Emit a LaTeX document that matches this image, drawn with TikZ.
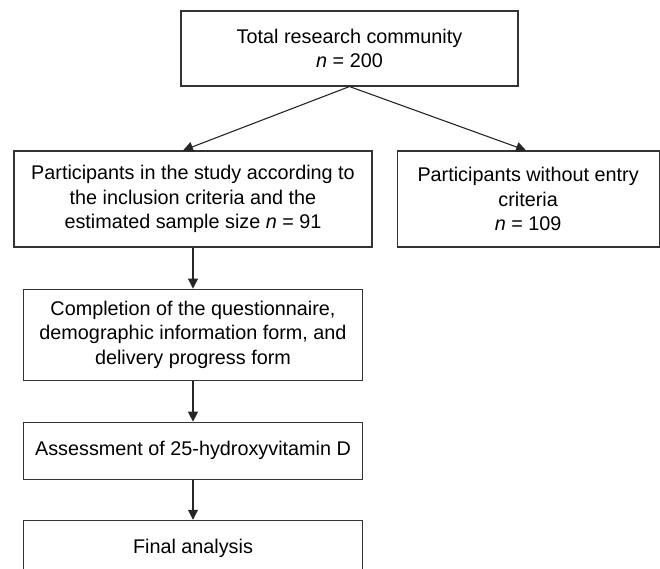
\documentclass[tikz,border=0pt]{standalone}
\usepackage{fontspec}
\setmainfont{Liberation Sans}
\usetikzlibrary{positioning,arrows.meta}

\begin{document}
\begin{tikzpicture}[
x=1pt, y=-1pt,
node distance=41pt and 24pt,
box/.style={rectangle, draw=black!80, line width=1.1pt, align=center, inner sep=0pt, font=\fontsize{19.8}{24.5}\selectfont},
arrow/.style={-{Triangle[length=10pt, width=10pt]}, line width=1.1pt, draw=black!85}
]
\useasboundingbox (0,0) rectangle (660,568);

\node[box, minimum width=337pt, minimum height=75pt] (total) at (349.5,48.5) {Total research community\\ \textit{n} = 200};
\node[box, minimum width=358pt, minimum height=96pt] (included) at (193,199) {Participants in the study according to\\ the inclusion criteria and the\\ estimated sample size \textit{n} = 91};
\node[box, minimum width=262pt, minimum height=96pt, right=of included] (excluded) {Participants without entry\\ criteria\\ \textit{n} = 109};

\node[box, minimum width=339pt, minimum height=91pt, below=of included] (questionnaire) {Completion of the questionnaire,\\ demographic information form, and\\ delivery progress form};
\node[box, minimum width=339pt, minimum height=57pt, below=of questionnaire] (vitamin) {Assessment of 25-hydroxyvitamin D};
\node[box, minimum width=339pt, minimum height=57pt, below=40pt of vitamin] (analysis) {Final analysis};

\draw[arrow] (total.south) -- ([xshift=-10pt]included.north);
\draw[arrow] (total.south) -- ([xshift=-2pt]excluded.north);
\draw[arrow] (included) -- (questionnaire);
\draw[arrow] (questionnaire) -- (vitamin);
\draw[arrow] (vitamin) -- (analysis);

\end{tikzpicture}
\end{document}
